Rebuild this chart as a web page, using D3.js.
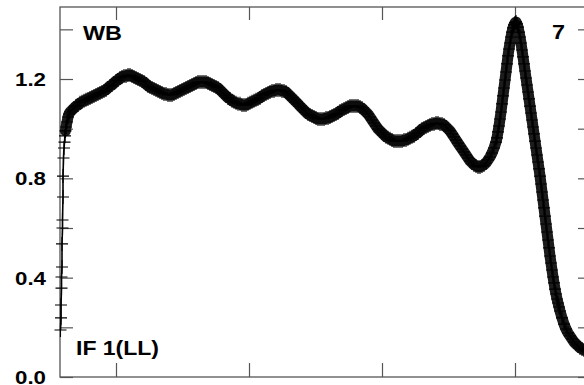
<!DOCTYPE html>
<html><head><meta charset="utf-8">
<script src="https://cdn.jsdelivr.net/npm/d3@7"></script>
<style>html,body{margin:0;padding:0;background:#fff;overflow:hidden}</style>
</head><body><svg id="chart" width="584" height="385"></svg>
<script>
// ---- data ----
const bins = [0.5,1,1,1.5,1.5,2,2,2.5,2.5,3,3,3.5,4,4.5,5,5.5,6,7,8,9,10,
12,14,16,18,20,22,24,26,28,30,32,34,36,38,40,42,44,46,48,50,52,54,56,58,60,62,64,66,68,70,
72,74,76,78,80,82,84,86,88,90,92,94,96,98,100,102,104,106,108,110,112,114,116,118,120,122,124,126,128,130,
132,134,136,138,140,142,144,146,148,150,152,154,156,158,160,162,164,166,168,170,172,174,176,178,180,182,184,186,188,190,
192,194,196,198,200,202,204,206,208,210,212,214,216,218,220,222,224,226,228,230,232,234,236,238,240,242,244,246,248,250,
252,254,256,258,260,262,264,266,268,270,272,274,276,278,280,282,284,286,288,290,292,294,296,298,300,302,304,306,308,310,
312,314,316,318,320,322,324,326,328,330,332,334,336,338,340,342,344,346,348,350,352,354,356,358,360,362,364,366,368,370,
372,374,376,378,380,382,384,386,388,390,392,394,396,398,400,402,404,406,408,410,412,414,416,418,420,422,424,426,428,430,
432,434,436,
437,438,439,440,441,442,443,444,445,446,447,448,449,450,451,452,453,454,455,456,457,458,459,460,461,462,463,464,465,466,
467,468,469,470,471,472,473,474,475,476,477,478,479,480,481,482,483,484,485,486,487,488,489,490,491,492,493,494,495,496,
497,498,499,500,
502,504,506,508,510,512,514,516,518,520,522,524,526,528,530];

const amplitude = [0.189,0.238,0.290,0.358,0.403,0.443,0.536,0.600,0.632,0.725,0.809,0.882,0.922,0.946,0.971,0.991,1.007,1.027,1.047,1.059,1.067,
1.075,1.083,1.091,1.095,1.104,1.108,1.112,1.116,1.120,1.124,1.128,1.132,1.136,1.140,1.144,1.148,1.152,1.156,1.164,1.172,1.176,1.184,1.192,1.196,1.204,1.208,1.212,1.212,1.216,1.216,
1.212,1.208,1.204,1.200,1.196,1.192,1.188,1.180,1.172,1.168,1.164,1.160,1.156,1.152,1.148,1.144,1.140,1.140,1.136,1.136,1.136,1.140,1.144,1.148,1.152,1.156,1.160,1.164,1.168,1.172,
1.176,1.180,1.184,1.188,1.188,1.188,1.188,1.188,1.184,1.180,1.176,1.172,1.168,1.164,1.156,1.148,1.140,1.132,1.124,1.120,1.112,1.108,1.104,1.100,1.100,1.095,1.095,1.095,1.100,1.104,
1.108,1.112,1.116,1.120,1.124,1.132,1.136,1.140,1.144,1.148,1.152,1.152,1.156,1.156,1.156,1.152,1.152,1.148,1.140,1.132,1.124,1.116,1.108,1.100,1.091,1.083,1.075,1.067,1.059,1.055,
1.051,1.047,1.043,1.039,1.039,1.039,1.039,1.043,1.043,1.047,1.051,1.055,1.059,1.063,1.071,1.075,1.079,1.083,1.087,1.091,1.091,1.091,1.091,1.091,1.087,1.083,1.075,1.067,1.059,1.047,
1.035,1.023,1.011,0.999,0.991,0.983,0.975,0.967,0.963,0.959,0.954,0.950,0.950,0.950,0.950,0.950,0.954,0.954,0.959,0.963,0.967,0.971,0.979,0.983,0.991,0.999,1.003,1.007,1.011,1.015,
1.019,1.019,1.023,1.023,1.019,1.019,1.015,1.007,0.999,0.991,0.979,0.967,0.954,0.942,0.930,0.918,0.906,0.894,0.882,0.870,0.862,0.854,0.850,0.846,0.846,0.850,0.854,0.862,0.874,0.886,
0.902,0.922,0.946,
0.963,0.987,1.011,1.039,1.067,1.100,1.132,1.164,1.196,1.228,1.261,1.293,1.321,1.345,1.369,1.389,1.406,1.418,1.426,1.430,1.422,1.409,1.389,1.369,1.345,1.317,1.289,1.261,1.232,1.204,
1.176,1.148,1.120,1.091,1.063,1.035,1.007,0.979,0.950,0.922,0.894,0.866,0.838,0.809,0.777,0.745,0.713,0.681,0.648,0.616,0.584,0.552,0.520,0.487,0.459,0.431,0.403,0.379,0.354,0.334,
0.314,0.298,0.282,0.266,
0.238,0.213,0.193,0.177,0.165,0.153,0.141,0.133,0.125,0.117,0.113,0.109,0.105,0.101,0.097];

const yTickValues = [0.0,0.2,0.4,0.6,0.8,1.0,1.2,1.4];
const yLabelValues = [0.0,0.4,0.8,1.2];
const xTickValues = [56,189,322,455];
const cornerLabels = ["WB","7","IF 1(LL)"];

// ---- drawing ----
const svg = d3.select("#chart");
const frame = {left:60, right:591, top:7, bottom:377};
const x = d3.scaleLinear().domain([0,531]).range([frame.left, frame.right]);
const y = d3.scaleLinear().domain([0,1.49]).range([frame.bottom, frame.top]);
const axisColor = "#555";
const font = "'Liberation Sans', Arial, Helvetica, sans-serif";

// frame
svg.append("rect").attr("x",frame.left).attr("y",frame.top)
  .attr("width",frame.right-frame.left).attr("height",frame.bottom-frame.top)
  .attr("fill","none").attr("stroke",axisColor).attr("stroke-width",1.3);

// axes (ticks pointing inward)
const gL = svg.append("g").attr("transform",`translate(${frame.left},0)`)
  .call(d3.axisRight(y).tickValues(yTickValues).tickSize(13).tickFormat(""));
const gR = svg.append("g").attr("transform",`translate(${frame.right},0)`)
  .call(d3.axisLeft(y).tickValues(yTickValues).tickSize(13).tickFormat(""));
const gB = svg.append("g").attr("transform",`translate(0,${frame.bottom})`)
  .call(d3.axisTop(x).tickValues(xTickValues).tickSize(14).tickFormat(""));
const gT = svg.append("g").attr("transform",`translate(0,${frame.top})`)
  .call(d3.axisBottom(x).tickValues(xTickValues).tickSize(13).tickFormat(""));
[gL,gR,gB,gT].forEach(g=>{
  g.select(".domain").remove();
  g.selectAll(".tick line").attr("stroke",axisColor).attr("stroke-width",1.2);
});

// y labels
svg.append("g").selectAll("text").data(yLabelValues).join("text")
  .attr("x",46).attr("y",d=>y(d)).attr("dy","0.36em")
  .attr("text-anchor","end")
  .attr("textLength",31).attr("lengthAdjust","spacingAndGlyphs")
  .style("font-family",font)
  .style("font-weight","bold").style("font-size","19px")
  .text(d=>d.toFixed(1));

// data: band of dense "+" markers
const pts = bins.map((b,i)=>[x(b), y(amplitude[i])]);
const line = d3.line();
const densePts = pts.filter((p,i)=>bins[i] >= 5.5);
svg.append("path")
  .attr("d", line(densePts))
  .attr("fill","none").attr("stroke","#1c1c1c").attr("stroke-width",11)
  .attr("stroke-linejoin","round").attr("stroke-linecap","round");
svg.append("path")
  .attr("d", line(pts))
  .attr("fill","none").attr("stroke","#000").attr("stroke-width",1.6);
const hw = 6, hh = 7;
let d = "";
pts.forEach(([px,py])=>{ d += `M${px-hw},${py}h${2*hw}M${px},${py-hh}v${2*hh}`; });
svg.append("path").attr("d",d).attr("fill","none").attr("stroke","#000").attr("stroke-width",1.1);

// corner labels
const lab = [
  {t:cornerLabels[0],x:83,y:40,a:"start",w:39},
  {t:cornerLabels[1],x:552,y:39,a:"start",w:13},
  {t:cornerLabels[2],x:76,y:355,a:"start",w:83}];
svg.append("g").selectAll("text").data(lab).join("text")
  .attr("x",d=>d.x).attr("y",d=>d.y).attr("text-anchor",d=>d.a)
  .attr("textLength",d=>d.w).attr("lengthAdjust","spacingAndGlyphs")
  .style("font-family",font)
  .style("font-weight","bold").style("font-size","21px")
  .text(d=>d.t);
</script></body></html>
